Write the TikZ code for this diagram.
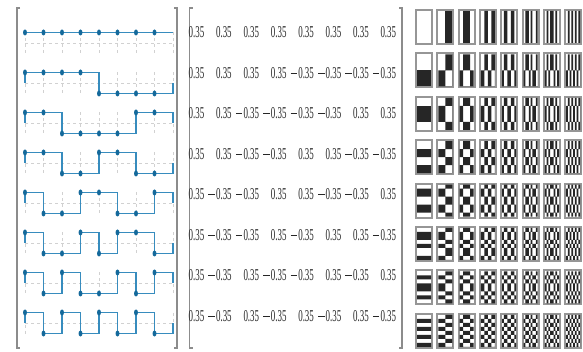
\documentclass[tikz,border=0pt]{standalone}
\usepackage{fontspec}
\setmainfont{Liberation Serif}
\usepackage{graphicx}
\definecolor{walshDotBlue}{RGB}{20,105,155}
\definecolor{walshLineBlue}{RGB}{55,140,190}
\definecolor{walshFrame}{RGB}{150,150,150}
\tikzset{
  walshStep/.style={draw=walshLineBlue, line width=1.5pt},
  walshDot/.style={fill=walshDotBlue},
  walshGrid/.style={draw=black!18, line width=0.8pt, dash pattern=on 3pt off 3pt},
  walshBracket/.style={draw=black!45, line width=1.4pt},
  walshEntry/.style={anchor=east, inner sep=0pt, text=black!85, font=\fontsize{16.5}{19}\selectfont},
  walshCell/.style={fill=black!85},
  walshFrameBox/.style={fill=walshFrame}
}
\newcommand{\walshNum}[1]{\scalebox{0.54}[1]{#1}}
\newcommand{\walshMinus}{\rule[4.8pt]{6.5pt}{0.9pt}\hspace{1.2pt}}
\def\walshRows{{1,1,1,1,1,1,1,1},{1,1,1,1,-1,-1,-1,-1},{1,1,-1,-1,-1,-1,1,1},{1,1,-1,-1,1,1,-1,-1},{1,-1,-1,1,1,-1,-1,1},{1,-1,-1,1,-1,1,1,-1},{1,-1,1,-1,-1,1,-1,1},{1,-1,1,-1,1,-1,1,-1}}
\begin{document}
\begin{tikzpicture}[x=1pt,y=-1pt]
  \useasboundingbox (0,0) rectangle (583,352);
  % brackets
  \draw[walshBracket] (20,8) -- (17,8) -- (17,348) -- (20,348);
  \draw[walshBracket] (174,8) -- (177,8) -- (177,348) -- (174,348);
  \draw[walshBracket] (192.5,8) -- (189.5,8) -- (189.5,348) -- (192.5,348);
  \draw[walshBracket] (399,8) -- (402,8) -- (402,348) -- (399,348);
  % step plots and matrix rows
  \foreach \w [count=\r] in \walshRows {
    \pgfmathsetmacro{\ym}{43+40*(\r-1)}
    \ifnum\r=1 \def\tk{1}\else\def\tk{0}\fi
    \draw[walshGrid] (25,\ym) -- (173,\ym);
    \foreach \i in {0,...,8}
      \draw[walshGrid] ({25+18.5*\i},{\ym-10.5}) -- ({25+18.5*\i},{\ym+10.5});
    \draw[walshStep] (25,{\ym-10.5*\tk})
      \foreach \v [count=\i from 0] in \w { -- ({25+18.5*\i},{\ym-10.5*(\v)}) -- ({43.5+18.5*\i},{\ym-10.5*(\v)}) }
      -- (173,{\ym-10.5*\tk});
    \foreach \v [count=\i from 0] in \w
      \fill[walshDot] ({25+18.5*\i},{\ym-10.5*(\v)}) ellipse (2 and 3);
    \foreach \v [count=\c] in \w
      \node[walshEntry] (m-\r-\c) at ({204.5+27.4*(\c-1)},{32.5+40.5*(\r-1)}) {\ifnum\v<0 \walshMinus\fi\walshNum{0.35}};
  }
  % basis images
  \foreach \wr [count=\r] in \walshRows {
    \foreach \wc [count=\c] in \walshRows {
      \pgfmathsetmacro{\ix}{415+21.3*(\c-1)}
      \pgfmathsetmacro{\iy}{9+43.4*(\r-1)}
      \fill[walshFrameBox] (\ix,\iy) rectangle ++(18,36);
      \fill[white] ({\ix+2},{\iy+2}) rectangle ++(14,32);
      \gdef\walshPath{}
      % runs of negative rows
      \edef\wrx{\wr,1}
      \gdef\runStart{-1}
      \foreach \v [count=\i from 0] in \wrx {
        \ifnum\v<0
          \ifnum\runStart<0 \xdef\runStart{\i}\fi
        \else
          \ifnum\runStart>-1
            \pgfmathsetmacro{\sy}{\iy+2+4*\runStart}
            \pgfmathsetmacro{\sh}{4*(\i-\runStart)}
            \xdef\walshPath{\walshPath (\ix+2,\sy) rectangle ++(14,\sh)}
            \gdef\runStart{-1}
          \fi
        \fi}
      % runs of negative columns
      \edef\wcx{\wc,1}
      \gdef\runStart{-1}
      \foreach \v [count=\j from 0] in \wcx {
        \ifnum\v<0
          \ifnum\runStart<0 \xdef\runStart{\j}\fi
        \else
          \ifnum\runStart>-1
            \pgfmathsetmacro{\sx}{\ix+2+1.75*\runStart}
            \pgfmathsetmacro{\sw}{1.75*(\j-\runStart)}
            \xdef\walshPath{\walshPath (\sx,\iy+2) rectangle ++(\sw,32)}
            \gdef\runStart{-1}
          \fi
        \fi}
      \fill[walshCell, even odd rule] \walshPath;
    }
  }
\end{tikzpicture}
\end{document}
